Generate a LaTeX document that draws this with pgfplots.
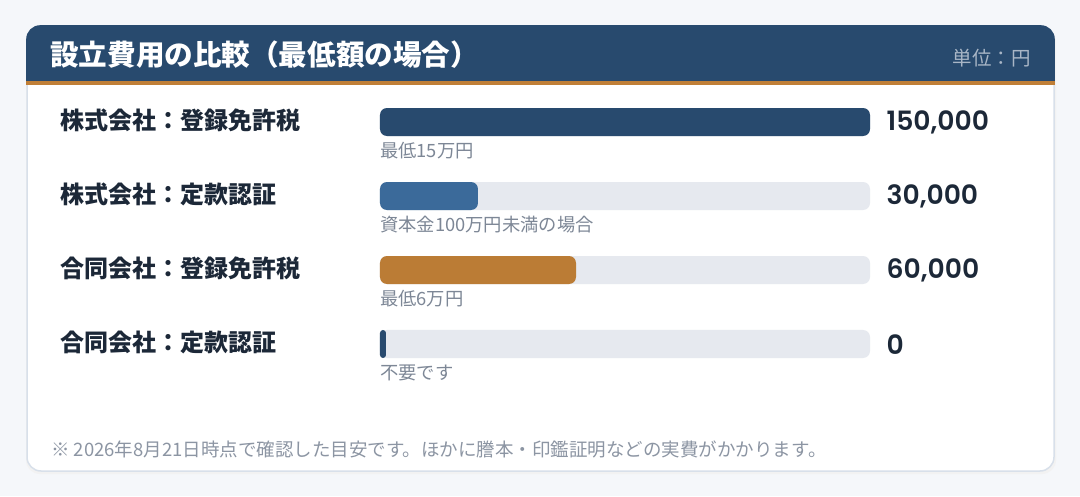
\documentclass[border=0pt]{standalone}
\usepackage{pgfplots}
\pgfplotsset{compat=1.18}
\usepackage{pgfplotstable}
\usepackage{fontspec}
\setmainfont{Noto Sans CJK JP}
\newfontfamily\numfont{Poppins SemiBold}
\definecolor{navy}{HTML}{284A6E}
\definecolor{midblue}{HTML}{3B6A9A}
\definecolor{ochre}{HTML}{BB7C35}
\definecolor{orangeline}{HTML}{C07F37}
\definecolor{track}{HTML}{E6E9EF}
\definecolor{ink}{HTML}{1C2838}
\definecolor{subgray}{HTML}{7D8796}
\definecolor{footgray}{HTML}{8C95A3}
\definecolor{unitgray}{HTML}{A9B6C6}
\definecolor{cardborder}{HTML}{D8E0EA}
\definecolor{bg}{HTML}{F5F7FA}
\pgfdeclareplotmark{stub}{%
  \pgfsetcornersarced{\pgfpoint{3pt}{3pt}}%
  \pgfpathmoveto{\pgfpoint{0pt}{-14pt}}%
  \pgfpathlineto{\pgfpoint{6pt}{-14pt}}%
  \pgfpathlineto{\pgfpoint{6pt}{14pt}}%
  \pgfpathlineto{\pgfpoint{0pt}{14pt}}%
  \pgfpathclose
  \pgfusepath{fill}}
\pgfplotstableread{
row max value
0 150000 150000
1 150000 30000
2 150000 60000
3 150000 0
}\costs
\begin{document}
\begin{tikzpicture}
\begin{scope}[x=1pt,y=-1pt,shift={(0pt,496pt)}]
\fill[bg] (0,0) rectangle (1080,496);
\fill[black!5, rounded corners=14pt] (26,28) rectangle (1056,474);
\fill[white, rounded corners=14pt] (27,26) rectangle (1054,471);
\draw[cardborder, line width=1.5pt, rounded corners=14pt] (27,26) rectangle (1054,471);
\begin{scope}
\clip[rounded corners=14pt] (26.2,25.2) rectangle (1054.8,471.8);
\fill[navy] (20,20) rectangle (1060,81);
\fill[orangeline] (20,81) rectangle (1060,85);
\end{scope}
\node[anchor=west, inner sep=0pt, text=white, font=\bfseries\fontsize{28.6}{28.6}\selectfont] at (50,54.5) {設立費用の比較（最低額の場合）};
\node[anchor=east, inner sep=0pt, text=unitgray, font=\fontsize{19.5}{19.5}\selectfont] at (1031,58) {単位：円};
\node[anchor=west, inner sep=0pt, text=footgray, font=\fontsize{18.5}{18.5}\selectfont] at (51,449) {※ 2026年8月21日時点で確認した目安です。ほかに謄本・印鑑証明などの実費がかかります。};
\end{scope}
\begin{axis}[
  at={(380pt,411pt)}, anchor=north west,
  scale only axis, width=490pt, height=296pt,
  xmin=0, xmax=150000, ymin=-0.5, ymax=3.5, y dir=reverse,
  clip=false,
  axis line style={draw=none},
  tick style={draw=none},
  xtick=\empty,
  ytick={0,1,2,3},
  yticklabels={株式会社：登録免許税,株式会社：定款認証,合同会社：登録免許税,合同会社：定款認証},
  yticklabel style={anchor=west, xshift=-320pt, yshift=1.5pt, inner sep=0pt, text=ink, font=\bfseries\fontsize{24}{24}\selectfont},
]
\addplot[xbar, bar width=28pt, bar shift=0pt, fill=track, draw=none, rounded corners=7pt] table[x=max, y=row] \costs;
\addplot[xbar, bar width=28pt, bar shift=0pt, fill=navy, draw=none, rounded corners=7pt] coordinates {(150000,0)};
\addplot[xbar, bar width=28pt, bar shift=0pt, fill=midblue, draw=none, rounded corners=7pt] coordinates {(30000,1)};
\addplot[xbar, bar width=28pt, bar shift=0pt, fill=ochre, draw=none, rounded corners=7pt] coordinates {(60000,2)};
\addplot[only marks, mark=stub, color=navy] coordinates {(0,3)};
\addplot[only marks, mark=none, point meta=explicit,
  nodes near coords,
  nodes near coords style={anchor=west, xshift=16.5pt, yshift=-0.5pt, inner sep=0pt, text=ink, font=\numfont\fontsize{26.6}{26.6}\selectfont,
    /pgf/number format/.cd, fixed, precision=0, 1000 sep={,}, assume math mode=true}]
  table[x=max, y=row, meta=value] \costs;
\node[anchor=west, inner sep=0pt, text=subgray, font=\fontsize{18.3}{18.3}\selectfont] at (axis cs:0,0) [yshift=-28.5pt] {最低15万円};
\node[anchor=west, inner sep=0pt, text=subgray, font=\fontsize{18.3}{18.3}\selectfont] at (axis cs:0,1) [yshift=-28.5pt] {資本金100万円未満の場合};
\node[anchor=west, inner sep=0pt, text=subgray, font=\fontsize{18.3}{18.3}\selectfont] at (axis cs:0,2) [yshift=-28.5pt] {最低6万円};
\node[anchor=west, inner sep=0pt, text=subgray, font=\fontsize{18.3}{18.3}\selectfont] at (axis cs:0,3) [yshift=-28.5pt] {不要です};
\end{axis}
\pgfresetboundingbox
\path[use as bounding box] (0pt,0pt) rectangle (1080pt,496pt);
\end{tikzpicture}
\end{document}
